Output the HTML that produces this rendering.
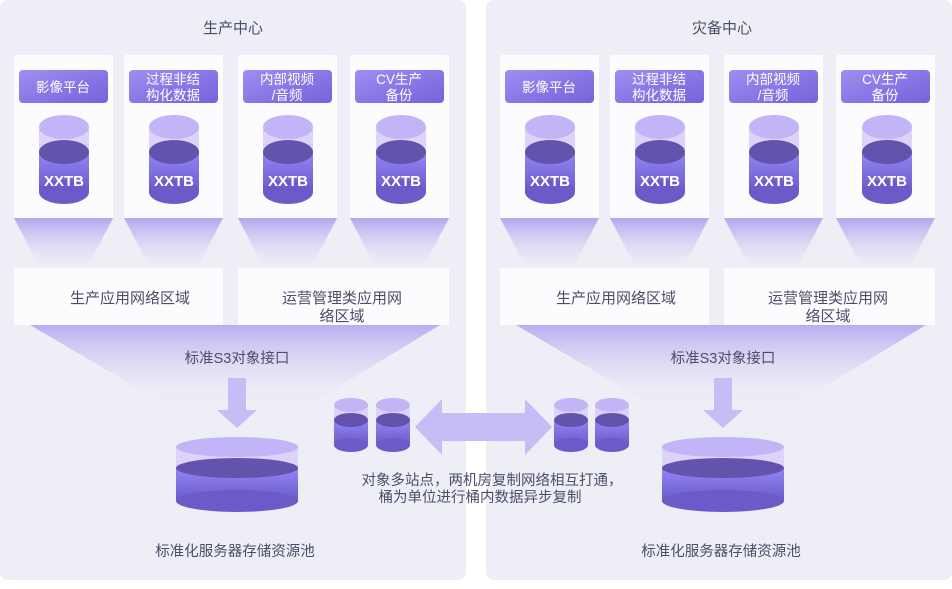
<!DOCTYPE html>
<html><head><meta charset="utf-8"><style>
body{margin:0;background:#fff;width:952px;height:584px;overflow:hidden}
text{font-family:"Liberation Sans","Noto Sans CJK SC",sans-serif}
</style></head><body>
<svg width="952" height="584" viewBox="0 0 952 584" xmlns="http://www.w3.org/2000/svg">
<defs>
<linearGradient id="fun" x1="0" y1="0" x2="0" y2="1"><stop offset="0" stop-color="#b3a6f0"/><stop offset="1" stop-color="#eeeef6" stop-opacity="0.3"/></linearGradient>
<linearGradient id="bfun" x1="0" y1="0" x2="0" y2="1"><stop offset="0" stop-color="#b9adf2"/><stop offset="1" stop-color="#eeeef6" stop-opacity="0"/></linearGradient>
<linearGradient id="lab" x1="0" y1="0" x2="1" y2="1"><stop offset="0" stop-color="#9d8ff0"/><stop offset="1" stop-color="#7462dc"/></linearGradient>
<linearGradient id="body" x1="0" y1="0" x2="0" y2="1"><stop offset="0" stop-color="#9486f6"/><stop offset="1" stop-color="#6b5ac8"/></linearGradient>
<g id="cyl">
<rect x="-25" y="0" width="50" height="25" fill="#ddd3f8"/>
<ellipse cx="0" cy="0" rx="25" ry="12" fill="#c2b4f6"/>
<rect x="-25" y="25" width="50" height="40" fill="url(#body)"/>
<ellipse cx="0" cy="65" rx="25" ry="12" fill="#6b5ac8"/>
<ellipse cx="0" cy="25" rx="25" ry="12" fill="#6353ad"/>
<text x="0" y="59" text-anchor="middle" font-size="15" font-weight="bold" fill="#fff">XXTB</text>
</g>
<g id="scyl">
<rect x="-17" y="0" width="34" height="15" fill="#ddd3f8"/>
<ellipse cx="0" cy="0" rx="17" ry="7" fill="#c2b4f6"/>
<rect x="-17" y="15" width="34" height="25" fill="url(#body)"/>
<ellipse cx="0" cy="40" rx="17" ry="7" fill="#6b5ac8"/>
<ellipse cx="0" cy="15" rx="17" ry="7" fill="#6353ad"/>
</g>
<g id="panel">
<rect x="0" y="0" width="466" height="580" rx="8" fill="#eeeef6"/>
<polygon points="30,325 440,325 300,410 175,410" fill="url(#bfun)"/>
<g fill="url(#fun)">
<polygon points="14,218 113,218 87,268 40,268"/>
<polygon points="124,218 223,218 197,268 150,268"/>
<polygon points="238,218 337,218 311,268 264,268"/>
<polygon points="350,218 449,218 423,268 376,268"/>
</g>
<g fill="#fcfcfe">
<rect x="14" y="55" width="99" height="163" rx="2"/>
<rect x="124" y="55" width="99" height="163" rx="2"/>
<rect x="238" y="55" width="99" height="163" rx="2"/>
<rect x="350" y="55" width="99" height="163" rx="2"/>
<rect x="14" y="268" width="209" height="57"/>
<rect x="238" y="268" width="211" height="57"/>
</g>
<g fill="url(#lab)">
<rect x="19" y="70" width="89" height="33" rx="4"/>
<rect x="129" y="70" width="89" height="33" rx="4"/>
<rect x="243" y="70" width="89" height="33" rx="4"/>
<rect x="355" y="70" width="89" height="33" rx="4"/>
</g>
<g font-size="13.5" fill="#fff" text-anchor="middle">
<text x="63" y="92">影像平台</text>
<text x="173" y="84">过程非结</text><text x="173" y="100">构化数据</text>
<text x="287" y="84">内部视频</text><text x="287" y="100">/音频</text>
<text x="399" y="84">CV生产</text><text x="399" y="100">备份</text>
</g>
<use href="#cyl" x="64" y="127"/><use href="#cyl" x="174" y="127"/><use href="#cyl" x="288" y="127"/><use href="#cyl" x="401" y="127"/>
<g font-size="15" fill="#4d4d6a" text-anchor="middle">
<text x="130" y="303">生产应用网络区域</text>
<text x="342" y="303">运营管理类应用网</text><text x="342" y="321">络区域</text>
<text x="237" y="363" font-size="14.5">标准S3对象接口</text>
<text x="235" y="556" font-size="14.5">标准化服务器存储资源池</text>
</g>
<polygon points="228,378 246,378 246,410 257,410 237,428 217,410 228,410" fill="#c6bcf6"/>
<rect x="176" y="447" width="122" height="21" fill="#ddd3f8"/>
<ellipse cx="237" cy="447" rx="61" ry="10" fill="#c2b4f6"/>
<rect x="176" y="468" width="122" height="33" fill="url(#body)"/>
<ellipse cx="237" cy="501" rx="61" ry="11" fill="#6b5ac8"/>
<ellipse cx="237" cy="468" rx="61" ry="10" fill="#6353ad"/>
</g>
</defs>
<use href="#panel" x="0" y="0"/>
<use href="#panel" x="486" y="0"/>
<text x="233" y="33" font-size="15" fill="#4d4d6a" text-anchor="middle">生产中心</text>
<text x="722" y="33" font-size="15" fill="#4d4d6a" text-anchor="middle">灾备中心</text>
<use href="#scyl" x="351" y="405"/><use href="#scyl" x="393" y="405"/>
<use href="#scyl" x="571" y="405"/><use href="#scyl" x="612" y="405"/>
<polygon points="415,427 442,399 442,413 525,413 525,399 552,427 525,455 525,441 442,441 442,455" fill="#c6bcf6"/>
<g font-size="14.5" fill="#4d4d6a" text-anchor="middle">
<text x="492" y="485">对象多站点，两机房复制网络相互打通，</text>
<text x="480" y="502">桶为单位进行桶内数据异步复制</text>
</g>
</svg>
</body></html>
